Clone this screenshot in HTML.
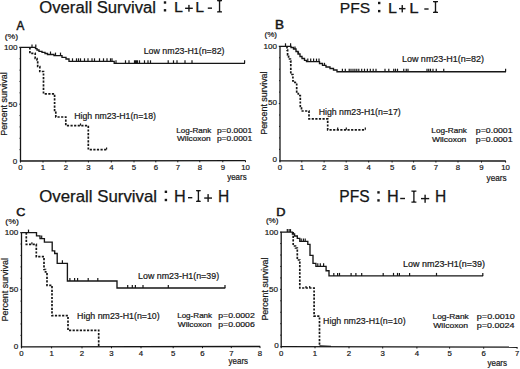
<!DOCTYPE html>
<html><head><meta charset="utf-8"><style>
html,body{margin:0;padding:0;background:#fff;}
body{width:520px;height:369px;overflow:hidden;}
svg{display:block;}
text{font-family:"Liberation Sans", sans-serif;stroke:#161616;stroke-width:0.2px;}
</style></head><body>
<svg width="520" height="369" viewBox="0 0 520 369" shape-rendering="geometricPrecision">
<rect width="520" height="369" fill="#fff"/>
<text x="39.25" y="12.60" font-size="16.00" textLength="116.79" lengthAdjust="spacingAndGlyphs" font-family='"Liberation Sans", sans-serif' fill="#161616" style="stroke-width:0.25px">Overall Survival</text>
<rect x="163.80" y="1.30" width="2.40" height="2.40" fill="#161616"/>
<rect x="163.80" y="9.10" width="2.40" height="2.40" fill="#161616"/>
<text x="173.91" y="12.40" font-size="15.36" textLength="9.00" lengthAdjust="spacingAndGlyphs" font-family='"Liberation Sans", sans-serif' fill="#161616" style="stroke-width:0.25px">L</text>
<rect x="185.10" y="7.60" width="7.70" height="1.4" fill="#161616"/>
<rect x="188.25" y="4.90" width="1.4" height="6.80" fill="#161616"/>
<text x="195.22" y="12.40" font-size="15.36" textLength="8.87" lengthAdjust="spacingAndGlyphs" font-family='"Liberation Sans", sans-serif' fill="#161616" style="stroke-width:0.25px">L</text>
<rect x="207.80" y="7.45" width="4.20" height="1.4" fill="#161616"/>
<path d="M217.10,0.10 L222.00,0.10 L222.00,1.35 L220.83,1.35 Q220.23,1.35 220.23,2.15 L220.23,10.55 Q220.23,11.35 220.83,11.35 L222.00,11.35 L222.00,12.60 L217.10,12.60 L217.10,11.35 L218.28,11.35 Q218.88,11.35 218.88,10.55 L218.88,2.15 Q218.88,1.35 218.28,1.35 L217.10,1.35 Z" fill="#161616"/>
<text x="339.75" y="12.60" font-size="15.00" textLength="30.37" lengthAdjust="spacingAndGlyphs" font-family='"Liberation Sans", sans-serif' fill="#161616" style="stroke-width:0.25px">PFS</text>
<rect x="378.00" y="1.80" width="2.40" height="2.40" fill="#161616"/>
<rect x="378.00" y="9.90" width="2.40" height="2.40" fill="#161616"/>
<text x="387.91" y="12.60" font-size="15.36" textLength="9.00" lengthAdjust="spacingAndGlyphs" font-family='"Liberation Sans", sans-serif' fill="#161616" style="stroke-width:0.25px">L</text>
<rect x="399.00" y="7.95" width="6.50" height="1.4" fill="#161616"/>
<rect x="401.55" y="5.10" width="1.4" height="7.30" fill="#161616"/>
<text x="409.15" y="12.60" font-size="15.36" textLength="9.37" lengthAdjust="spacingAndGlyphs" font-family='"Liberation Sans", sans-serif' fill="#161616" style="stroke-width:0.25px">L</text>
<rect x="424.30" y="8.30" width="4.30" height="1.4" fill="#161616"/>
<path d="M433.00,1.10 L438.00,1.10 L438.00,2.35 L436.78,2.35 Q436.18,2.35 436.18,3.15 L436.18,10.85 Q436.18,11.65 436.78,11.65 L438.00,11.65 L438.00,12.90 L433.00,12.90 L433.00,11.65 L434.22,11.65 Q434.82,11.65 434.82,10.85 L434.82,3.15 Q434.82,2.35 434.22,2.35 L433.00,2.35 Z" fill="#161616"/>
<text x="39.24" y="202.40" font-size="15.86" textLength="117.80" lengthAdjust="spacingAndGlyphs" font-family='"Liberation Sans", sans-serif' fill="#161616" style="stroke-width:0.25px">Overall Survival</text>
<rect x="164.70" y="190.60" width="2.40" height="2.40" fill="#161616"/>
<rect x="164.70" y="198.80" width="2.40" height="2.40" fill="#161616"/>
<text x="173.90" y="202.10" font-size="17.25" textLength="11.76" lengthAdjust="spacingAndGlyphs" font-family='"Liberation Sans", sans-serif' fill="#161616" style="stroke-width:0.25px">H</text>
<rect x="188.00" y="197.00" width="4.30" height="1.4" fill="#161616"/>
<path d="M196.10,189.90 L200.70,189.90 L200.70,191.15 L199.67,191.15 Q199.07,191.15 199.07,191.95 L199.07,199.85 Q199.07,200.65 199.67,200.65 L200.70,200.65 L200.70,201.90 L196.10,201.90 L196.10,200.65 L197.12,200.65 Q197.72,200.65 197.72,199.85 L197.72,191.95 Q197.72,191.15 197.12,191.15 L196.10,191.15 Z" fill="#161616"/>
<rect x="204.20" y="197.35" width="7.80" height="1.4" fill="#161616"/>
<rect x="207.40" y="194.10" width="1.4" height="7.80" fill="#161616"/>
<text x="217.95" y="202.10" font-size="17.25" textLength="11.25" lengthAdjust="spacingAndGlyphs" font-family='"Liberation Sans", sans-serif' fill="#161616" style="stroke-width:0.25px">H</text>
<text x="339.36" y="202.20" font-size="16.00" textLength="30.27" lengthAdjust="spacingAndGlyphs" font-family='"Liberation Sans", sans-serif' fill="#161616" style="stroke-width:0.25px">PFS</text>
<rect x="377.30" y="191.20" width="2.40" height="2.40" fill="#161616"/>
<rect x="377.30" y="199.20" width="2.40" height="2.40" fill="#161616"/>
<text x="386.90" y="202.10" font-size="16.38" textLength="11.76" lengthAdjust="spacingAndGlyphs" font-family='"Liberation Sans", sans-serif' fill="#161616" style="stroke-width:0.25px">H</text>
<rect x="400.20" y="197.80" width="4.80" height="1.4" fill="#161616"/>
<path d="M411.40,190.50 L416.40,190.50 L416.40,191.75 L415.18,191.75 Q414.57,191.75 414.57,192.55 L414.57,200.75 Q414.57,201.55 415.18,201.55 L416.40,201.55 L416.40,202.80 L411.40,202.80 L411.40,201.55 L412.62,201.55 Q413.22,201.55 413.22,200.75 L413.22,192.55 Q413.22,191.75 412.62,191.75 L411.40,191.75 Z" fill="#161616"/>
<rect x="421.00" y="197.90" width="8.20" height="1.4" fill="#161616"/>
<rect x="424.40" y="194.70" width="1.4" height="8.10" fill="#161616"/>
<text x="434.95" y="202.10" font-size="16.38" textLength="11.25" lengthAdjust="spacingAndGlyphs" font-family='"Liberation Sans", sans-serif' fill="#161616" style="stroke-width:0.25px">H</text>
<text x="16.60" y="30.00" font-size="13.04" textLength="7.82" lengthAdjust="spacingAndGlyphs" font-family='"Liberation Sans", sans-serif' fill="#161616" style="stroke-width:0.5px">A</text>
<text x="4.68" y="38.80" font-size="8.00" textLength="13.44" lengthAdjust="spacingAndGlyphs" font-family='"Liberation Sans", sans-serif' fill="#161616">(%)</text>
<text x="4.00" y="49.50" font-size="8.1" font-family='"Liberation Sans", sans-serif' fill="#161616">100</text>
<text x="8.29" y="106.80" font-size="8.1" font-family='"Liberation Sans", sans-serif' fill="#161616">50</text>
<text x="12.79" y="164.00" font-size="8.1" font-family='"Liberation Sans", sans-serif' fill="#161616">0</text>
<text transform="translate(7.00,135.71) rotate(-90)" x="0" y="0" font-size="9.10" textLength="63.48" lengthAdjust="spacingAndGlyphs" font-family='"Liberation Sans", sans-serif' fill="#161616">Percent survival</text>
<line x1="20.50" y1="47.10" x2="20.50" y2="161.60" stroke="#161616" stroke-width="1.3"/>
<line x1="19.30" y1="47.40" x2="20.50" y2="47.40" stroke="#161616" stroke-width="1.2"/>
<line x1="19.90" y1="161.00" x2="245.60" y2="160.60" stroke="#161616" stroke-width="1.35"/>
<line x1="19.30" y1="104.20" x2="20.50" y2="104.20" stroke="#161616" stroke-width="1.0"/>
<line x1="19.50" y1="149.64" x2="20.50" y2="149.64" stroke="#161616" stroke-width="0.9"/>
<line x1="19.50" y1="138.28" x2="20.50" y2="138.28" stroke="#161616" stroke-width="0.9"/>
<line x1="19.50" y1="126.92" x2="20.50" y2="126.92" stroke="#161616" stroke-width="0.9"/>
<line x1="19.50" y1="115.56" x2="20.50" y2="115.56" stroke="#161616" stroke-width="0.9"/>
<line x1="19.50" y1="92.84" x2="20.50" y2="92.84" stroke="#161616" stroke-width="0.9"/>
<line x1="19.50" y1="81.48" x2="20.50" y2="81.48" stroke="#161616" stroke-width="0.9"/>
<line x1="19.50" y1="70.12" x2="20.50" y2="70.12" stroke="#161616" stroke-width="0.9"/>
<line x1="19.50" y1="58.76" x2="20.50" y2="58.76" stroke="#161616" stroke-width="0.9"/>
<line x1="20.50" y1="161.00" x2="20.50" y2="162.60" stroke="#161616" stroke-width="1.0"/>
<text x="20.50" y="170.20" font-size="7.8" text-anchor="middle" font-family='"Liberation Sans", sans-serif' fill="#161616">0</text>
<line x1="43.00" y1="160.96" x2="43.00" y2="162.56" stroke="#161616" stroke-width="1.0"/>
<text x="43.00" y="170.20" font-size="7.8" text-anchor="middle" font-family='"Liberation Sans", sans-serif' fill="#161616">1</text>
<line x1="65.80" y1="160.92" x2="65.80" y2="162.52" stroke="#161616" stroke-width="1.0"/>
<text x="65.80" y="170.20" font-size="7.8" text-anchor="middle" font-family='"Liberation Sans", sans-serif' fill="#161616">2</text>
<line x1="88.40" y1="160.88" x2="88.40" y2="162.48" stroke="#161616" stroke-width="1.0"/>
<text x="88.40" y="170.20" font-size="7.8" text-anchor="middle" font-family='"Liberation Sans", sans-serif' fill="#161616">3</text>
<line x1="111.30" y1="160.84" x2="111.30" y2="162.44" stroke="#161616" stroke-width="1.0"/>
<text x="111.30" y="170.20" font-size="7.8" text-anchor="middle" font-family='"Liberation Sans", sans-serif' fill="#161616">4</text>
<line x1="134.00" y1="160.80" x2="134.00" y2="162.40" stroke="#161616" stroke-width="1.0"/>
<text x="134.00" y="170.20" font-size="7.8" text-anchor="middle" font-family='"Liberation Sans", sans-serif' fill="#161616">5</text>
<line x1="155.80" y1="160.76" x2="155.80" y2="162.36" stroke="#161616" stroke-width="1.0"/>
<text x="155.80" y="170.20" font-size="7.8" text-anchor="middle" font-family='"Liberation Sans", sans-serif' fill="#161616">6</text>
<line x1="177.80" y1="160.72" x2="177.80" y2="162.32" stroke="#161616" stroke-width="1.0"/>
<text x="177.80" y="170.20" font-size="7.8" text-anchor="middle" font-family='"Liberation Sans", sans-serif' fill="#161616">7</text>
<line x1="199.80" y1="160.68" x2="199.80" y2="162.28" stroke="#161616" stroke-width="1.0"/>
<text x="199.80" y="170.20" font-size="7.8" text-anchor="middle" font-family='"Liberation Sans", sans-serif' fill="#161616">8</text>
<line x1="222.80" y1="160.64" x2="222.80" y2="162.24" stroke="#161616" stroke-width="1.0"/>
<text x="222.80" y="170.20" font-size="7.8" text-anchor="middle" font-family='"Liberation Sans", sans-serif' fill="#161616">9</text>
<line x1="245.50" y1="160.60" x2="245.50" y2="162.20" stroke="#161616" stroke-width="1.0"/>
<text x="245.50" y="170.20" font-size="7.8" text-anchor="middle" font-family='"Liberation Sans", sans-serif' fill="#161616">10</text>
<text x="227.20" y="180.00" font-size="8.20" textLength="19.48" lengthAdjust="spacingAndGlyphs" font-family='"Liberation Sans", sans-serif' fill="#161616">years</text>
<text x="143.69" y="53.80" font-size="8.83" textLength="80.83" lengthAdjust="spacingAndGlyphs" font-family='"Liberation Sans", sans-serif' fill="#161616">Low nm23-H1(n=82)</text>
<text x="74.30" y="118.80" font-size="8.97" textLength="81.59" lengthAdjust="spacingAndGlyphs" font-family='"Liberation Sans", sans-serif' fill="#161616">High nm23-H1(n=18)</text>
<text x="176.35" y="132.60" font-size="7.31" textLength="35.01" lengthAdjust="spacingAndGlyphs" font-family='"Liberation Sans", sans-serif' fill="#161616">Log-Rank</text>
<text x="216.90" y="132.60" font-size="7.57" textLength="35.27" lengthAdjust="spacingAndGlyphs" font-family='"Liberation Sans", sans-serif' fill="#161616">p=0.0001</text>
<text x="177.00" y="141.30" font-size="7.03" textLength="33.71" lengthAdjust="spacingAndGlyphs" font-family='"Liberation Sans", sans-serif' fill="#161616">Wilcoxon</text>
<text x="216.90" y="141.30" font-size="7.29" textLength="35.27" lengthAdjust="spacingAndGlyphs" font-family='"Liberation Sans", sans-serif' fill="#161616">p=0.0001</text>
<path d="M20.50,47.40 L35.50,47.40 L35.50,48.60 L37.00,48.60 L37.00,50.00 L39.00,50.00 L39.00,51.30 L42.00,51.30 L42.00,52.30 L45.00,52.30 L45.00,53.50 L47.50,53.50 L47.50,54.50 L54.00,54.50 L54.00,55.60 L62.00,55.60 L62.00,57.30 L66.00,57.30 L66.00,59.00 L69.00,59.00 L69.00,61.30 L114.20,61.30 L114.20,63.30 L245.00,63.30" fill="none" stroke="#161616" stroke-width="1.35" stroke-linejoin="miter" stroke-linecap="butt"/>
<line x1="32.00" y1="47.40" x2="32.00" y2="44.40" stroke="#161616" stroke-width="1.2"/>
<line x1="35.80" y1="47.40" x2="35.80" y2="44.40" stroke="#161616" stroke-width="1.2"/>
<line x1="50.50" y1="54.50" x2="50.50" y2="51.50" stroke="#161616" stroke-width="1.2"/>
<line x1="55.50" y1="55.60" x2="55.50" y2="52.60" stroke="#161616" stroke-width="1.2"/>
<line x1="60.50" y1="55.60" x2="60.50" y2="52.60" stroke="#161616" stroke-width="1.2"/>
<line x1="72.50" y1="61.30" x2="72.50" y2="58.30" stroke="#161616" stroke-width="1.2"/>
<line x1="76.50" y1="61.30" x2="76.50" y2="58.30" stroke="#161616" stroke-width="1.2"/>
<line x1="78.50" y1="61.30" x2="78.50" y2="58.30" stroke="#161616" stroke-width="1.2"/>
<line x1="80.50" y1="61.30" x2="80.50" y2="58.30" stroke="#161616" stroke-width="1.2"/>
<line x1="84.50" y1="61.30" x2="84.50" y2="58.30" stroke="#161616" stroke-width="1.2"/>
<line x1="88.00" y1="61.30" x2="88.00" y2="58.30" stroke="#161616" stroke-width="1.2"/>
<line x1="92.00" y1="61.30" x2="92.00" y2="58.30" stroke="#161616" stroke-width="1.2"/>
<line x1="94.50" y1="61.30" x2="94.50" y2="58.30" stroke="#161616" stroke-width="1.2"/>
<line x1="99.50" y1="61.30" x2="99.50" y2="58.30" stroke="#161616" stroke-width="1.2"/>
<line x1="103.50" y1="61.30" x2="103.50" y2="58.30" stroke="#161616" stroke-width="1.2"/>
<line x1="107.00" y1="61.30" x2="107.00" y2="58.30" stroke="#161616" stroke-width="1.2"/>
<line x1="110.50" y1="61.30" x2="110.50" y2="58.30" stroke="#161616" stroke-width="1.2"/>
<line x1="112.00" y1="61.30" x2="112.00" y2="58.30" stroke="#161616" stroke-width="1.2"/>
<line x1="116.00" y1="63.30" x2="116.00" y2="60.30" stroke="#161616" stroke-width="1.2"/>
<line x1="125.50" y1="63.30" x2="125.50" y2="60.30" stroke="#161616" stroke-width="1.2"/>
<line x1="129.00" y1="63.30" x2="129.00" y2="60.30" stroke="#161616" stroke-width="1.2"/>
<line x1="134.50" y1="63.30" x2="134.50" y2="60.30" stroke="#161616" stroke-width="1.2"/>
<line x1="135.50" y1="63.30" x2="135.50" y2="60.30" stroke="#161616" stroke-width="1.2"/>
<line x1="136.50" y1="63.30" x2="136.50" y2="60.30" stroke="#161616" stroke-width="1.2"/>
<line x1="137.50" y1="63.30" x2="137.50" y2="60.30" stroke="#161616" stroke-width="1.2"/>
<line x1="139.50" y1="63.30" x2="139.50" y2="60.30" stroke="#161616" stroke-width="1.2"/>
<line x1="144.50" y1="63.30" x2="144.50" y2="60.30" stroke="#161616" stroke-width="1.2"/>
<line x1="148.00" y1="63.30" x2="148.00" y2="60.30" stroke="#161616" stroke-width="1.2"/>
<line x1="150.50" y1="63.30" x2="150.50" y2="60.30" stroke="#161616" stroke-width="1.2"/>
<line x1="168.20" y1="63.30" x2="168.20" y2="60.30" stroke="#161616" stroke-width="1.2"/>
<line x1="173.50" y1="63.30" x2="173.50" y2="60.30" stroke="#161616" stroke-width="1.2"/>
<line x1="177.00" y1="63.30" x2="177.00" y2="60.30" stroke="#161616" stroke-width="1.2"/>
<line x1="185.00" y1="63.30" x2="185.00" y2="60.30" stroke="#161616" stroke-width="1.2"/>
<line x1="192.00" y1="63.30" x2="192.00" y2="60.30" stroke="#161616" stroke-width="1.2"/>
<line x1="244.60" y1="63.30" x2="244.60" y2="60.30" stroke="#161616" stroke-width="1.2"/>
<path d="M29.90,47.40 L29.90,53.30 L35.20,53.30 L35.20,58.50 L37.00,58.50 L37.00,60.00 L37.70,60.00 L37.70,66.50 L39.80,66.50 L39.80,71.50 L43.50,71.50 L43.50,93.80 L54.60,93.80 L54.60,110.50 L55.80,110.50 L55.80,117.00 L65.80,117.00 L65.80,125.60 L88.30,125.60 L88.30,149.60 L107.00,149.60" fill="none" stroke="#161616" stroke-width="1.7" stroke-dasharray="2.2 1.4" stroke-linejoin="miter" stroke-linecap="butt"/>
<line x1="80.50" y1="125.60" x2="80.50" y2="123.40" stroke="#161616" stroke-width="1.2"/>
<line x1="106.60" y1="149.60" x2="106.60" y2="147.40" stroke="#161616" stroke-width="1.2"/>
<text x="275.12" y="29.00" font-size="12.17" textLength="8.98" lengthAdjust="spacingAndGlyphs" font-family='"Liberation Sans", sans-serif' fill="#161616" style="stroke-width:0.5px">B</text>
<text x="264.51" y="37.20" font-size="7.80" textLength="12.57" lengthAdjust="spacingAndGlyphs" font-family='"Liberation Sans", sans-serif' fill="#161616">(%)</text>
<text x="263.40" y="48.60" font-size="8.1" font-family='"Liberation Sans", sans-serif' fill="#161616">100</text>
<text x="267.89" y="105.30" font-size="8.1" font-family='"Liberation Sans", sans-serif' fill="#161616">50</text>
<text x="272.39" y="162.30" font-size="8.1" font-family='"Liberation Sans", sans-serif' fill="#161616">0</text>
<text transform="translate(267.10,134.81) rotate(-90)" x="0" y="0" font-size="8.69" textLength="63.38" lengthAdjust="spacingAndGlyphs" font-family='"Liberation Sans", sans-serif' fill="#161616">Percent survival</text>
<line x1="280.00" y1="46.00" x2="280.00" y2="161.40" stroke="#161616" stroke-width="1.3"/>
<line x1="278.80" y1="46.30" x2="280.00" y2="46.30" stroke="#161616" stroke-width="1.2"/>
<line x1="279.40" y1="160.80" x2="505.80" y2="161.00" stroke="#161616" stroke-width="1.35"/>
<line x1="278.80" y1="103.55" x2="280.00" y2="103.55" stroke="#161616" stroke-width="1.0"/>
<line x1="279.00" y1="149.35" x2="280.00" y2="149.35" stroke="#161616" stroke-width="0.9"/>
<line x1="279.00" y1="137.90" x2="280.00" y2="137.90" stroke="#161616" stroke-width="0.9"/>
<line x1="279.00" y1="126.45" x2="280.00" y2="126.45" stroke="#161616" stroke-width="0.9"/>
<line x1="279.00" y1="115.00" x2="280.00" y2="115.00" stroke="#161616" stroke-width="0.9"/>
<line x1="279.00" y1="92.10" x2="280.00" y2="92.10" stroke="#161616" stroke-width="0.9"/>
<line x1="279.00" y1="80.65" x2="280.00" y2="80.65" stroke="#161616" stroke-width="0.9"/>
<line x1="279.00" y1="69.20" x2="280.00" y2="69.20" stroke="#161616" stroke-width="0.9"/>
<line x1="279.00" y1="57.75" x2="280.00" y2="57.75" stroke="#161616" stroke-width="0.9"/>
<line x1="280.00" y1="160.80" x2="280.00" y2="162.40" stroke="#161616" stroke-width="1.0"/>
<text x="280.00" y="170.00" font-size="7.8" text-anchor="middle" font-family='"Liberation Sans", sans-serif' fill="#161616">0</text>
<line x1="301.80" y1="160.82" x2="301.80" y2="162.42" stroke="#161616" stroke-width="1.0"/>
<text x="301.80" y="170.00" font-size="7.8" text-anchor="middle" font-family='"Liberation Sans", sans-serif' fill="#161616">1</text>
<line x1="324.10" y1="160.84" x2="324.10" y2="162.44" stroke="#161616" stroke-width="1.0"/>
<text x="324.10" y="170.00" font-size="7.8" text-anchor="middle" font-family='"Liberation Sans", sans-serif' fill="#161616">2</text>
<line x1="346.20" y1="160.86" x2="346.20" y2="162.46" stroke="#161616" stroke-width="1.0"/>
<text x="346.20" y="170.00" font-size="7.8" text-anchor="middle" font-family='"Liberation Sans", sans-serif' fill="#161616">3</text>
<line x1="368.70" y1="160.88" x2="368.70" y2="162.48" stroke="#161616" stroke-width="1.0"/>
<text x="368.70" y="170.00" font-size="7.8" text-anchor="middle" font-family='"Liberation Sans", sans-serif' fill="#161616">4</text>
<line x1="392.10" y1="160.90" x2="392.10" y2="162.50" stroke="#161616" stroke-width="1.0"/>
<text x="392.10" y="170.00" font-size="7.8" text-anchor="middle" font-family='"Liberation Sans", sans-serif' fill="#161616">5</text>
<line x1="413.60" y1="160.92" x2="413.60" y2="162.52" stroke="#161616" stroke-width="1.0"/>
<text x="413.60" y="170.00" font-size="7.8" text-anchor="middle" font-family='"Liberation Sans", sans-serif' fill="#161616">6</text>
<line x1="435.90" y1="160.94" x2="435.90" y2="162.54" stroke="#161616" stroke-width="1.0"/>
<text x="435.90" y="170.00" font-size="7.8" text-anchor="middle" font-family='"Liberation Sans", sans-serif' fill="#161616">7</text>
<line x1="458.00" y1="160.96" x2="458.00" y2="162.56" stroke="#161616" stroke-width="1.0"/>
<text x="458.00" y="170.00" font-size="7.8" text-anchor="middle" font-family='"Liberation Sans", sans-serif' fill="#161616">8</text>
<line x1="481.50" y1="160.98" x2="481.50" y2="162.58" stroke="#161616" stroke-width="1.0"/>
<text x="481.50" y="170.00" font-size="7.8" text-anchor="middle" font-family='"Liberation Sans", sans-serif' fill="#161616">9</text>
<line x1="505.60" y1="161.00" x2="505.60" y2="162.60" stroke="#161616" stroke-width="1.0"/>
<text x="505.60" y="170.00" font-size="7.8" text-anchor="middle" font-family='"Liberation Sans", sans-serif' fill="#161616">10</text>
<text x="486.60" y="180.60" font-size="8.20" textLength="20.09" lengthAdjust="spacingAndGlyphs" font-family='"Liberation Sans", sans-serif' fill="#161616">years</text>
<text x="401.88" y="62.00" font-size="8.97" textLength="82.25" lengthAdjust="spacingAndGlyphs" font-family='"Liberation Sans", sans-serif' fill="#161616">Low nm23-H1(n=82)</text>
<text x="318.70" y="115.40" font-size="8.55" textLength="81.99" lengthAdjust="spacingAndGlyphs" font-family='"Liberation Sans", sans-serif' fill="#161616">High nm23-H1(n=17)</text>
<text x="431.34" y="133.00" font-size="7.31" textLength="35.63" lengthAdjust="spacingAndGlyphs" font-family='"Liberation Sans", sans-serif' fill="#161616">Log-Rank</text>
<text x="475.88" y="133.00" font-size="7.57" textLength="36.71" lengthAdjust="spacingAndGlyphs" font-family='"Liberation Sans", sans-serif' fill="#161616">p=0.0001</text>
<text x="432.00" y="141.60" font-size="6.90" textLength="34.32" lengthAdjust="spacingAndGlyphs" font-family='"Liberation Sans", sans-serif' fill="#161616">Wilcoxon</text>
<text x="475.88" y="141.60" font-size="7.14" textLength="36.71" lengthAdjust="spacingAndGlyphs" font-family='"Liberation Sans", sans-serif' fill="#161616">p=0.0001</text>
<path d="M280.00,46.30 L291.00,46.30 L291.00,47.50 L293.50,47.50 L293.50,49.00 L296.00,49.00 L296.00,51.50 L298.00,51.50 L298.00,54.00 L300.00,54.00 L300.00,56.50 L302.00,56.50 L302.00,58.50 L304.50,58.50 L304.50,60.30 L306.50,60.30 L306.50,61.60 L319.50,61.60 L319.50,63.50 L322.50,63.50 L322.50,65.30 L326.00,65.30 L326.00,67.00 L330.00,67.00 L330.00,68.50 L333.50,68.50 L333.50,70.00 L337.00,70.00 L337.00,71.70 L506.00,71.70" fill="none" stroke="#161616" stroke-width="1.35" stroke-linejoin="miter" stroke-linecap="butt"/>
<line x1="285.50" y1="46.30" x2="285.50" y2="43.30" stroke="#161616" stroke-width="1.2"/>
<line x1="290.60" y1="46.30" x2="290.60" y2="43.30" stroke="#161616" stroke-width="1.2"/>
<line x1="295.00" y1="49.00" x2="295.00" y2="46.50" stroke="#161616" stroke-width="1.2"/>
<line x1="298.50" y1="54.00" x2="298.50" y2="51.50" stroke="#161616" stroke-width="1.2"/>
<line x1="307.80" y1="61.60" x2="307.80" y2="58.60" stroke="#161616" stroke-width="1.2"/>
<line x1="310.70" y1="61.60" x2="310.70" y2="58.60" stroke="#161616" stroke-width="1.2"/>
<line x1="313.60" y1="61.60" x2="313.60" y2="58.60" stroke="#161616" stroke-width="1.2"/>
<line x1="316.50" y1="61.60" x2="316.50" y2="58.60" stroke="#161616" stroke-width="1.2"/>
<line x1="319.00" y1="61.60" x2="319.00" y2="58.60" stroke="#161616" stroke-width="1.2"/>
<line x1="324.50" y1="65.30" x2="324.50" y2="62.80" stroke="#161616" stroke-width="1.2"/>
<line x1="342.40" y1="71.70" x2="342.40" y2="68.70" stroke="#161616" stroke-width="1.2"/>
<line x1="345.30" y1="71.70" x2="345.30" y2="68.70" stroke="#161616" stroke-width="1.2"/>
<line x1="349.20" y1="71.70" x2="349.20" y2="68.70" stroke="#161616" stroke-width="1.2"/>
<line x1="351.00" y1="71.70" x2="351.00" y2="68.70" stroke="#161616" stroke-width="1.2"/>
<line x1="353.00" y1="71.70" x2="353.00" y2="68.70" stroke="#161616" stroke-width="1.2"/>
<line x1="354.90" y1="71.70" x2="354.90" y2="68.70" stroke="#161616" stroke-width="1.2"/>
<line x1="356.80" y1="71.70" x2="356.80" y2="68.70" stroke="#161616" stroke-width="1.2"/>
<line x1="358.80" y1="71.70" x2="358.80" y2="68.70" stroke="#161616" stroke-width="1.2"/>
<line x1="361.70" y1="71.70" x2="361.70" y2="68.70" stroke="#161616" stroke-width="1.2"/>
<line x1="364.50" y1="71.70" x2="364.50" y2="68.70" stroke="#161616" stroke-width="1.2"/>
<line x1="367.40" y1="71.70" x2="367.40" y2="68.70" stroke="#161616" stroke-width="1.2"/>
<line x1="370.30" y1="71.70" x2="370.30" y2="68.70" stroke="#161616" stroke-width="1.2"/>
<line x1="373.20" y1="71.70" x2="373.20" y2="68.70" stroke="#161616" stroke-width="1.2"/>
<line x1="376.00" y1="71.70" x2="376.00" y2="68.70" stroke="#161616" stroke-width="1.2"/>
<line x1="385.00" y1="71.70" x2="385.00" y2="68.70" stroke="#161616" stroke-width="1.2"/>
<line x1="388.80" y1="71.70" x2="388.80" y2="68.70" stroke="#161616" stroke-width="1.2"/>
<line x1="393.75" y1="71.70" x2="393.75" y2="68.70" stroke="#161616" stroke-width="1.2"/>
<line x1="395.50" y1="71.70" x2="395.50" y2="68.70" stroke="#161616" stroke-width="1.2"/>
<line x1="397.50" y1="71.70" x2="397.50" y2="68.70" stroke="#161616" stroke-width="1.2"/>
<line x1="403.75" y1="71.70" x2="403.75" y2="68.70" stroke="#161616" stroke-width="1.2"/>
<line x1="406.25" y1="71.70" x2="406.25" y2="68.70" stroke="#161616" stroke-width="1.2"/>
<line x1="408.00" y1="71.70" x2="408.00" y2="68.70" stroke="#161616" stroke-width="1.2"/>
<line x1="427.00" y1="71.70" x2="427.00" y2="68.70" stroke="#161616" stroke-width="1.2"/>
<line x1="428.75" y1="71.70" x2="428.75" y2="68.70" stroke="#161616" stroke-width="1.2"/>
<line x1="430.50" y1="71.70" x2="430.50" y2="68.70" stroke="#161616" stroke-width="1.2"/>
<line x1="433.00" y1="71.70" x2="433.00" y2="68.70" stroke="#161616" stroke-width="1.2"/>
<line x1="436.25" y1="71.70" x2="436.25" y2="68.70" stroke="#161616" stroke-width="1.2"/>
<line x1="443.75" y1="71.70" x2="443.75" y2="68.70" stroke="#161616" stroke-width="1.2"/>
<line x1="505.60" y1="71.70" x2="505.60" y2="68.70" stroke="#161616" stroke-width="1.2"/>
<path d="M287.00,46.30 L287.00,50.00 L287.60,50.00 L287.60,55.00 L288.60,55.00 L288.60,59.00 L290.40,59.00 L290.40,61.00 L290.80,61.00 L290.80,74.50 L292.90,74.50 L292.90,81.00 L294.90,81.00 L294.90,82.50 L296.70,82.50 L296.70,93.50 L298.30,93.50 L298.30,95.50 L300.30,95.50 L300.30,108.00 L301.50,108.00 L301.50,111.00 L309.00,111.00 L309.00,118.80 L327.70,118.80 L327.70,129.80 L365.60,129.80" fill="none" stroke="#161616" stroke-width="1.7" stroke-dasharray="2.2 1.4" stroke-linejoin="miter" stroke-linecap="butt"/>
<line x1="337.70" y1="129.80" x2="337.70" y2="127.60" stroke="#161616" stroke-width="1.2"/>
<line x1="346.30" y1="129.80" x2="346.30" y2="127.60" stroke="#161616" stroke-width="1.2"/>
<line x1="365.30" y1="129.80" x2="365.30" y2="127.40" stroke="#161616" stroke-width="1.2"/>
<text x="16.37" y="216.00" font-size="11.43" textLength="9.10" lengthAdjust="spacingAndGlyphs" font-family='"Liberation Sans", sans-serif' fill="#161616" style="stroke-width:0.5px">C</text>
<text x="5.28" y="224.20" font-size="8.00" textLength="13.55" lengthAdjust="spacingAndGlyphs" font-family='"Liberation Sans", sans-serif' fill="#161616">(%)</text>
<text x="4.80" y="235.20" font-size="8.1" font-family='"Liberation Sans", sans-serif' fill="#161616">100</text>
<text x="9.29" y="292.20" font-size="8.1" font-family='"Liberation Sans", sans-serif' fill="#161616">50</text>
<text x="13.79" y="348.80" font-size="8.1" font-family='"Liberation Sans", sans-serif' fill="#161616">0</text>
<text transform="translate(7.70,321.41) rotate(-90)" x="0" y="0" font-size="8.97" textLength="63.28" lengthAdjust="spacingAndGlyphs" font-family='"Liberation Sans", sans-serif' fill="#161616">Percent survival</text>
<line x1="21.50" y1="232.30" x2="21.50" y2="347.40" stroke="#161616" stroke-width="1.3"/>
<line x1="20.30" y1="232.60" x2="21.50" y2="232.60" stroke="#161616" stroke-width="1.2"/>
<line x1="20.90" y1="346.80" x2="260.20" y2="346.50" stroke="#161616" stroke-width="1.35"/>
<line x1="20.30" y1="289.70" x2="21.50" y2="289.70" stroke="#161616" stroke-width="1.0"/>
<line x1="20.50" y1="335.38" x2="21.50" y2="335.38" stroke="#161616" stroke-width="0.9"/>
<line x1="20.50" y1="323.96" x2="21.50" y2="323.96" stroke="#161616" stroke-width="0.9"/>
<line x1="20.50" y1="312.54" x2="21.50" y2="312.54" stroke="#161616" stroke-width="0.9"/>
<line x1="20.50" y1="301.12" x2="21.50" y2="301.12" stroke="#161616" stroke-width="0.9"/>
<line x1="20.50" y1="278.28" x2="21.50" y2="278.28" stroke="#161616" stroke-width="0.9"/>
<line x1="20.50" y1="266.86" x2="21.50" y2="266.86" stroke="#161616" stroke-width="0.9"/>
<line x1="20.50" y1="255.44" x2="21.50" y2="255.44" stroke="#161616" stroke-width="0.9"/>
<line x1="20.50" y1="244.02" x2="21.50" y2="244.02" stroke="#161616" stroke-width="0.9"/>
<line x1="21.50" y1="346.80" x2="21.50" y2="348.40" stroke="#161616" stroke-width="1.0"/>
<text x="21.50" y="355.60" font-size="7.8" text-anchor="middle" font-family='"Liberation Sans", sans-serif' fill="#161616">0</text>
<line x1="51.60" y1="346.76" x2="51.60" y2="348.36" stroke="#161616" stroke-width="1.0"/>
<text x="51.60" y="355.60" font-size="7.8" text-anchor="middle" font-family='"Liberation Sans", sans-serif' fill="#161616">1</text>
<line x1="82.00" y1="346.73" x2="82.00" y2="348.33" stroke="#161616" stroke-width="1.0"/>
<text x="82.00" y="355.60" font-size="7.8" text-anchor="middle" font-family='"Liberation Sans", sans-serif' fill="#161616">2</text>
<line x1="111.50" y1="346.69" x2="111.50" y2="348.29" stroke="#161616" stroke-width="1.0"/>
<text x="111.50" y="355.60" font-size="7.8" text-anchor="middle" font-family='"Liberation Sans", sans-serif' fill="#161616">3</text>
<line x1="141.00" y1="346.65" x2="141.00" y2="348.25" stroke="#161616" stroke-width="1.0"/>
<text x="141.00" y="355.60" font-size="7.8" text-anchor="middle" font-family='"Liberation Sans", sans-serif' fill="#161616">4</text>
<line x1="173.20" y1="346.61" x2="173.20" y2="348.21" stroke="#161616" stroke-width="1.0"/>
<text x="173.20" y="355.60" font-size="7.8" text-anchor="middle" font-family='"Liberation Sans", sans-serif' fill="#161616">5</text>
<line x1="202.50" y1="346.57" x2="202.50" y2="348.18" stroke="#161616" stroke-width="1.0"/>
<text x="202.50" y="355.60" font-size="7.8" text-anchor="middle" font-family='"Liberation Sans", sans-serif' fill="#161616">6</text>
<line x1="231.30" y1="346.54" x2="231.30" y2="348.14" stroke="#161616" stroke-width="1.0"/>
<text x="231.30" y="355.60" font-size="7.8" text-anchor="middle" font-family='"Liberation Sans", sans-serif' fill="#161616">7</text>
<line x1="260.00" y1="346.50" x2="260.00" y2="348.10" stroke="#161616" stroke-width="1.0"/>
<text x="260.00" y="355.60" font-size="7.8" text-anchor="middle" font-family='"Liberation Sans", sans-serif' fill="#161616">8</text>
<text x="228.60" y="363.80" font-size="8.20" textLength="19.48" lengthAdjust="spacingAndGlyphs" font-family='"Liberation Sans", sans-serif' fill="#161616">years</text>
<text x="138.09" y="279.40" font-size="8.69" textLength="81.03" lengthAdjust="spacingAndGlyphs" font-family='"Liberation Sans", sans-serif' fill="#161616">Low nm23-H1(n=39)</text>
<text x="77.09" y="318.80" font-size="8.69" textLength="82.60" lengthAdjust="spacingAndGlyphs" font-family='"Liberation Sans", sans-serif' fill="#161616">High nm23-H1(n=10)</text>
<text x="177.15" y="318.40" font-size="7.31" textLength="35.01" lengthAdjust="spacingAndGlyphs" font-family='"Liberation Sans", sans-serif' fill="#161616">Log-Rank</text>
<text x="218.28" y="318.40" font-size="7.57" textLength="36.50" lengthAdjust="spacingAndGlyphs" font-family='"Liberation Sans", sans-serif' fill="#161616">p=0.0002</text>
<text x="177.80" y="327.00" font-size="6.90" textLength="33.71" lengthAdjust="spacingAndGlyphs" font-family='"Liberation Sans", sans-serif' fill="#161616">Wilcoxon</text>
<text x="218.28" y="327.00" font-size="7.14" textLength="36.46" lengthAdjust="spacingAndGlyphs" font-family='"Liberation Sans", sans-serif' fill="#161616">p=0.0006</text>
<path d="M21.50,232.60 L36.50,232.60 L36.50,235.80 L40.00,235.80 L40.00,238.60 L44.40,238.60 L44.40,242.10 L52.20,242.10 L52.20,250.80 L54.70,250.80 L54.70,253.50 L57.20,253.50 L57.20,263.30 L67.40,263.30 L67.40,281.00 L117.00,281.00 L117.00,288.00 L225.30,288.00" fill="none" stroke="#161616" stroke-width="1.35" stroke-linejoin="miter" stroke-linecap="butt"/>
<line x1="28.50" y1="232.60" x2="28.50" y2="229.60" stroke="#161616" stroke-width="1.2"/>
<line x1="41.70" y1="238.60" x2="41.70" y2="235.60" stroke="#161616" stroke-width="1.2"/>
<line x1="62.40" y1="263.30" x2="62.40" y2="260.30" stroke="#161616" stroke-width="1.2"/>
<line x1="69.90" y1="281.00" x2="69.90" y2="278.00" stroke="#161616" stroke-width="1.2"/>
<line x1="74.60" y1="281.00" x2="74.60" y2="278.00" stroke="#161616" stroke-width="1.2"/>
<line x1="77.60" y1="281.00" x2="77.60" y2="278.00" stroke="#161616" stroke-width="1.2"/>
<line x1="88.20" y1="281.00" x2="88.20" y2="278.00" stroke="#161616" stroke-width="1.2"/>
<line x1="97.80" y1="281.00" x2="97.80" y2="278.00" stroke="#161616" stroke-width="1.2"/>
<line x1="127.70" y1="288.00" x2="127.70" y2="285.00" stroke="#161616" stroke-width="1.2"/>
<line x1="132.30" y1="288.00" x2="132.30" y2="285.00" stroke="#161616" stroke-width="1.2"/>
<line x1="135.40" y1="288.00" x2="135.40" y2="285.00" stroke="#161616" stroke-width="1.2"/>
<line x1="143.00" y1="288.00" x2="143.00" y2="285.00" stroke="#161616" stroke-width="1.2"/>
<line x1="168.30" y1="288.00" x2="168.30" y2="285.00" stroke="#161616" stroke-width="1.2"/>
<line x1="225.00" y1="288.00" x2="225.00" y2="285.00" stroke="#161616" stroke-width="1.2"/>
<path d="M26.30,232.60 L26.30,244.30 L36.30,244.30 L36.30,256.70 L44.00,256.70 L44.00,269.50 L45.50,269.50 L45.50,272.00 L47.00,272.00 L47.00,285.30 L52.00,285.30 L52.00,315.60 L68.00,315.60 L68.00,330.30 L98.70,330.30 L98.70,346.80" fill="none" stroke="#161616" stroke-width="1.7" stroke-dasharray="2.2 1.4" stroke-linejoin="miter" stroke-linecap="butt"/>
<line x1="31.90" y1="244.30" x2="31.90" y2="242.30" stroke="#161616" stroke-width="1.2"/>
<text x="276.18" y="215.50" font-size="11.59" textLength="9.22" lengthAdjust="spacingAndGlyphs" font-family='"Liberation Sans", sans-serif' fill="#161616" style="stroke-width:0.5px">D</text>
<text x="265.91" y="223.20" font-size="7.80" textLength="12.57" lengthAdjust="spacingAndGlyphs" font-family='"Liberation Sans", sans-serif' fill="#161616">(%)</text>
<text x="264.80" y="234.60" font-size="8.1" font-family='"Liberation Sans", sans-serif' fill="#161616">100</text>
<text x="269.09" y="292.40" font-size="8.1" font-family='"Liberation Sans", sans-serif' fill="#161616">50</text>
<text x="274.19" y="348.20" font-size="8.1" font-family='"Liberation Sans", sans-serif' fill="#161616">0</text>
<text transform="translate(268.40,320.61) rotate(-90)" x="0" y="0" font-size="8.83" textLength="63.08" lengthAdjust="spacingAndGlyphs" font-family='"Liberation Sans", sans-serif' fill="#161616">Percent survival</text>
<line x1="281.20" y1="231.80" x2="281.20" y2="347.20" stroke="#161616" stroke-width="1.3"/>
<line x1="280.00" y1="232.10" x2="281.20" y2="232.10" stroke="#161616" stroke-width="1.2"/>
<line x1="280.60" y1="346.60" x2="517.30" y2="347.20" stroke="#161616" stroke-width="1.35"/>
<line x1="280.00" y1="289.35" x2="281.20" y2="289.35" stroke="#161616" stroke-width="1.0"/>
<line x1="280.20" y1="335.15" x2="281.20" y2="335.15" stroke="#161616" stroke-width="0.9"/>
<line x1="280.20" y1="323.70" x2="281.20" y2="323.70" stroke="#161616" stroke-width="0.9"/>
<line x1="280.20" y1="312.25" x2="281.20" y2="312.25" stroke="#161616" stroke-width="0.9"/>
<line x1="280.20" y1="300.80" x2="281.20" y2="300.80" stroke="#161616" stroke-width="0.9"/>
<line x1="280.20" y1="277.90" x2="281.20" y2="277.90" stroke="#161616" stroke-width="0.9"/>
<line x1="280.20" y1="266.45" x2="281.20" y2="266.45" stroke="#161616" stroke-width="0.9"/>
<line x1="280.20" y1="255.00" x2="281.20" y2="255.00" stroke="#161616" stroke-width="0.9"/>
<line x1="280.20" y1="243.55" x2="281.20" y2="243.55" stroke="#161616" stroke-width="0.9"/>
<line x1="281.20" y1="346.60" x2="281.20" y2="348.20" stroke="#161616" stroke-width="1.0"/>
<text x="281.20" y="356.20" font-size="7.8" text-anchor="middle" font-family='"Liberation Sans", sans-serif' fill="#161616">0</text>
<line x1="315.00" y1="346.69" x2="315.00" y2="348.29" stroke="#161616" stroke-width="1.0"/>
<text x="315.00" y="356.20" font-size="7.8" text-anchor="middle" font-family='"Liberation Sans", sans-serif' fill="#161616">1</text>
<line x1="349.00" y1="346.77" x2="349.00" y2="348.37" stroke="#161616" stroke-width="1.0"/>
<text x="349.00" y="356.20" font-size="7.8" text-anchor="middle" font-family='"Liberation Sans", sans-serif' fill="#161616">2</text>
<line x1="382.70" y1="346.86" x2="382.70" y2="348.46" stroke="#161616" stroke-width="1.0"/>
<text x="382.70" y="356.20" font-size="7.8" text-anchor="middle" font-family='"Liberation Sans", sans-serif' fill="#161616">3</text>
<line x1="416.90" y1="346.94" x2="416.90" y2="348.54" stroke="#161616" stroke-width="1.0"/>
<text x="416.90" y="356.20" font-size="7.8" text-anchor="middle" font-family='"Liberation Sans", sans-serif' fill="#161616">4</text>
<line x1="449.60" y1="347.03" x2="449.60" y2="348.63" stroke="#161616" stroke-width="1.0"/>
<text x="449.60" y="356.20" font-size="7.8" text-anchor="middle" font-family='"Liberation Sans", sans-serif' fill="#161616">5</text>
<line x1="483.70" y1="347.11" x2="483.70" y2="348.71" stroke="#161616" stroke-width="1.0"/>
<text x="483.70" y="356.20" font-size="7.8" text-anchor="middle" font-family='"Liberation Sans", sans-serif' fill="#161616">6</text>
<line x1="517.10" y1="347.20" x2="517.10" y2="348.80" stroke="#161616" stroke-width="1.0"/>
<text x="517.10" y="356.20" font-size="7.8" text-anchor="middle" font-family='"Liberation Sans", sans-serif' fill="#161616">7</text>
<line x1="319.50" y1="345.70" x2="331.00" y2="346.30" stroke="#161616" stroke-width="1.1"/>
<text x="487.40" y="366.40" font-size="8.20" textLength="19.68" lengthAdjust="spacingAndGlyphs" font-family='"Liberation Sans", sans-serif' fill="#161616">years</text>
<text x="403.08" y="266.70" font-size="8.14" textLength="81.84" lengthAdjust="spacingAndGlyphs" font-family='"Liberation Sans", sans-serif' fill="#161616">Low nm23-H1(n=39)</text>
<text x="323.09" y="324.20" font-size="9.24" textLength="82.60" lengthAdjust="spacingAndGlyphs" font-family='"Liberation Sans", sans-serif' fill="#161616">High nm23-H1(n=10)</text>
<text x="432.53" y="318.90" font-size="7.45" textLength="36.24" lengthAdjust="spacingAndGlyphs" font-family='"Liberation Sans", sans-serif' fill="#161616">Log-Rank</text>
<text x="476.86" y="318.90" font-size="7.71" textLength="37.85" lengthAdjust="spacingAndGlyphs" font-family='"Liberation Sans", sans-serif' fill="#161616">p=0.0010</text>
<text x="433.20" y="328.00" font-size="7.31" textLength="34.93" lengthAdjust="spacingAndGlyphs" font-family='"Liberation Sans", sans-serif' fill="#161616">Wilcoxon</text>
<text x="476.86" y="328.00" font-size="7.57" textLength="37.75" lengthAdjust="spacingAndGlyphs" font-family='"Liberation Sans", sans-serif' fill="#161616">p=0.0024</text>
<path d="M281.20,232.10 L292.40,232.10 L292.40,234.00 L294.60,234.00 L294.60,236.00 L297.30,236.00 L297.30,238.40 L299.80,238.40 L299.80,241.40 L307.80,241.40 L307.80,244.30 L310.00,244.30 L310.00,255.30 L313.00,255.30 L313.00,263.30 L315.90,263.30 L315.90,266.30 L326.10,266.30 L326.10,270.70 L329.00,270.70 L329.00,275.90 L483.10,275.90" fill="none" stroke="#161616" stroke-width="1.35" stroke-linejoin="miter" stroke-linecap="butt"/>
<line x1="287.30" y1="232.10" x2="287.30" y2="229.10" stroke="#161616" stroke-width="1.2"/>
<line x1="289.10" y1="232.10" x2="289.10" y2="229.10" stroke="#161616" stroke-width="1.2"/>
<line x1="290.50" y1="232.10" x2="290.50" y2="229.10" stroke="#161616" stroke-width="1.2"/>
<line x1="301.20" y1="241.40" x2="301.20" y2="238.40" stroke="#161616" stroke-width="1.2"/>
<line x1="303.40" y1="241.40" x2="303.40" y2="238.40" stroke="#161616" stroke-width="1.2"/>
<line x1="305.20" y1="241.40" x2="305.20" y2="238.40" stroke="#161616" stroke-width="1.2"/>
<line x1="317.80" y1="266.30" x2="317.80" y2="263.30" stroke="#161616" stroke-width="1.2"/>
<line x1="320.30" y1="266.30" x2="320.30" y2="263.30" stroke="#161616" stroke-width="1.2"/>
<line x1="323.60" y1="266.30" x2="323.60" y2="263.30" stroke="#161616" stroke-width="1.2"/>
<line x1="333.80" y1="275.90" x2="333.80" y2="272.90" stroke="#161616" stroke-width="1.2"/>
<line x1="337.60" y1="275.90" x2="337.60" y2="272.90" stroke="#161616" stroke-width="1.2"/>
<line x1="339.50" y1="275.90" x2="339.50" y2="272.90" stroke="#161616" stroke-width="1.2"/>
<line x1="351.10" y1="275.90" x2="351.10" y2="272.90" stroke="#161616" stroke-width="1.2"/>
<line x1="355.90" y1="275.90" x2="355.90" y2="272.90" stroke="#161616" stroke-width="1.2"/>
<line x1="361.70" y1="275.90" x2="361.70" y2="272.90" stroke="#161616" stroke-width="1.2"/>
<line x1="383.20" y1="275.90" x2="383.20" y2="272.90" stroke="#161616" stroke-width="1.2"/>
<line x1="393.50" y1="275.90" x2="393.50" y2="272.90" stroke="#161616" stroke-width="1.2"/>
<line x1="397.50" y1="275.90" x2="397.50" y2="272.90" stroke="#161616" stroke-width="1.2"/>
<line x1="399.40" y1="275.90" x2="399.40" y2="272.90" stroke="#161616" stroke-width="1.2"/>
<line x1="409.60" y1="275.90" x2="409.60" y2="272.90" stroke="#161616" stroke-width="1.2"/>
<line x1="436.50" y1="275.90" x2="436.50" y2="272.90" stroke="#161616" stroke-width="1.2"/>
<line x1="482.80" y1="275.90" x2="482.80" y2="272.90" stroke="#161616" stroke-width="1.2"/>
<path d="M293.20,232.10 L293.20,246.00 L295.50,246.00 L295.50,248.00 L297.30,248.00 L297.30,260.00 L299.80,260.00 L299.80,288.00 L314.10,288.00 L314.10,316.10 L319.50,316.10 L319.50,346.60" fill="none" stroke="#161616" stroke-width="1.7" stroke-dasharray="2.2 1.4" stroke-linejoin="miter" stroke-linecap="butt"/>
<line x1="306.00" y1="288.00" x2="306.00" y2="286.00" stroke="#161616" stroke-width="1.2"/>
<line x1="309.70" y1="288.00" x2="309.70" y2="286.00" stroke="#161616" stroke-width="1.2"/>
</svg>
</body></html>
